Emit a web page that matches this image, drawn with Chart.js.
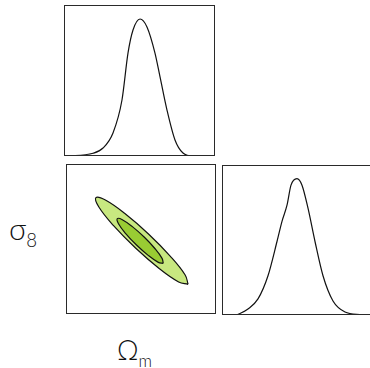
<!DOCTYPE html>
<html>
<head>
<meta charset="utf-8">
<script src="https://cdn.jsdelivr.net/npm/chart.js@4.4.1/dist/chart.umd.min.js"></script>
<style>
  body { margin: 0; background: #fff; width: 370px; height: 368px; overflow: hidden; position: relative; }
  canvas { position: absolute; }
  .lbl { position: absolute; font-family: "DejaVu Sans ExtraLight", Lato, "Noto Sans", sans-serif; font-weight: 300; color: #111; line-height: 1; }
  .lbl sub { font-size: 62%; vertical-align: -0.4em; }
</style>
</head>
<body>
<canvas id="omPdf" width="151" height="151" style="left:64px;top:5px"></canvas>
<canvas id="contour" width="150" height="150" style="left:66px;top:164px"></canvas>
<canvas id="s8Pdf" width="150" height="150" style="left:222px;top:165px"></canvas>
<div class="lbl" style="left:9px;top:213px;font-size:30px">σ<sub>8</sub></div>
<div class="lbl" style="left:117px;top:336px;font-size:27px">Ω<sub>m</sub></div>
<script>
// eixos (sem marcas visiveis)
var omRange = [0.20, 0.40];
var s8Range = [0.65, 0.95];
var pdfMax = 1.1;

// distribuição marginal de Omega_m
var omX = [0.2036, 0.2384, 0.2517, 0.2649, 0.2768, 0.2848, 0.2914, 0.3007, 0.3099, 0.3205, 0.3272, 0.3364, 0.3470, 0.3576, 0.3709, 0.3974];
var omP = [0, 0.020, 0.058, 0.168, 0.408, 0.751, 0.918, 0.998, 0.940, 0.750, 0.576, 0.335, 0.117, 0.022, 0, 0];

// distribuição marginal de sigma_8
var s8X = [0.6794, 0.702, 0.722, 0.742, 0.760, 0.770, 0.780, 0.788, 0.800, 0.810, 0.822, 0.836, 0.852, 0.872, 0.896, 0.930];
var s8P = [0, 0.044, 0.118, 0.288, 0.539, 0.687, 0.805, 0.952, 1.0, 0.952, 0.783, 0.539, 0.288, 0.103, 0.022, 0];

// contornos 2D (1 e 2 sigma)
var outerOm = [0.3628, 0.3502, 0.3246, 0.2927, 0.2631, 0.2438, 0.2399, 0.2525, 0.2781, 0.3100, 0.3395, 0.3589, 0.3628];
var outerS8 = [0.7094, 0.7141, 0.7406, 0.7820, 0.8271, 0.8639, 0.8826, 0.8779, 0.8514, 0.8100, 0.7648, 0.7281, 0.7094];
var innerOm = [0.3297, 0.3231, 0.3100, 0.2940, 0.2793, 0.2700, 0.2684, 0.2751, 0.2881, 0.3042, 0.3188, 0.3281, 0.3297];
var innerS8 = [0.7513, 0.7533, 0.7667, 0.7880, 0.8114, 0.8306, 0.8407, 0.8386, 0.8252, 0.8039, 0.7805, 0.7613, 0.7513];

function pares(xs, ys) {
    var out = [];
    for (var i = 0; i < xs.length; i++) {
        out.push({ x: xs[i], y: ys[i] });
    }
    return out;
}

// moldura em volta da area do grafico
var moldura = {
    id: 'moldura',
    afterDraw: function(chart) {
        var a = chart.chartArea;
        var c = chart.ctx;
        c.save();
        c.strokeStyle = '#2a2a2a';
        c.lineWidth = 1;
        c.strokeRect(a.left + 0.5, a.top + 0.5, a.right - a.left - 1, a.bottom - a.top - 1);
        c.restore();
    }
};

function opcoes(xr, yr) {
    return {
        responsive: false,
        animation: false,
        layout: { padding: 0 },
        plugins: { legend: { display: false }, tooltip: { enabled: false } },
        elements: { point: { radius: 0 } },
        scales: {
            x: { type: 'linear', min: xr[0], max: xr[1], display: false },
            y: { type: 'linear', min: yr[0], max: yr[1], display: false }
        }
    };
}

new Chart(document.getElementById('omPdf'), {
    type: 'line',
    data: {
        datasets: [{
            data: pares(omX, omP),
            borderColor: '#111',
            borderWidth: 1.2,
            fill: false,
            cubicInterpolationMode: 'monotone'
        }]
    },
    options: opcoes(omRange, [0, pdfMax]),
    plugins: [moldura]
});

new Chart(document.getElementById('s8Pdf'), {
    type: 'line',
    data: {
        datasets: [{
            data: pares(s8X, s8P),
            borderColor: '#111',
            borderWidth: 1.2,
            fill: false,
            cubicInterpolationMode: 'monotone'
        }]
    },
    options: opcoes(s8Range, [0, pdfMax]),
    plugins: [moldura]
});

new Chart(document.getElementById('contour'), {
    type: 'line',
    data: {
        datasets: [
            {
                data: pares(innerOm, innerS8),
                borderColor: '#111',
                borderWidth: 1.2,
                backgroundColor: 'rgb(153, 204, 51)',
                fill: 'shape',
                tension: 0.4
            },
            {
                data: pares(outerOm, outerS8),
                borderColor: '#111',
                borderWidth: 1.2,
                backgroundColor: 'rgb(200, 232, 128)',
                fill: 'shape',
                tension: 0.4
            }
        ]
    },
    options: opcoes(omRange, s8Range),
    plugins: [moldura]
});
</script>
</body>
</html>
